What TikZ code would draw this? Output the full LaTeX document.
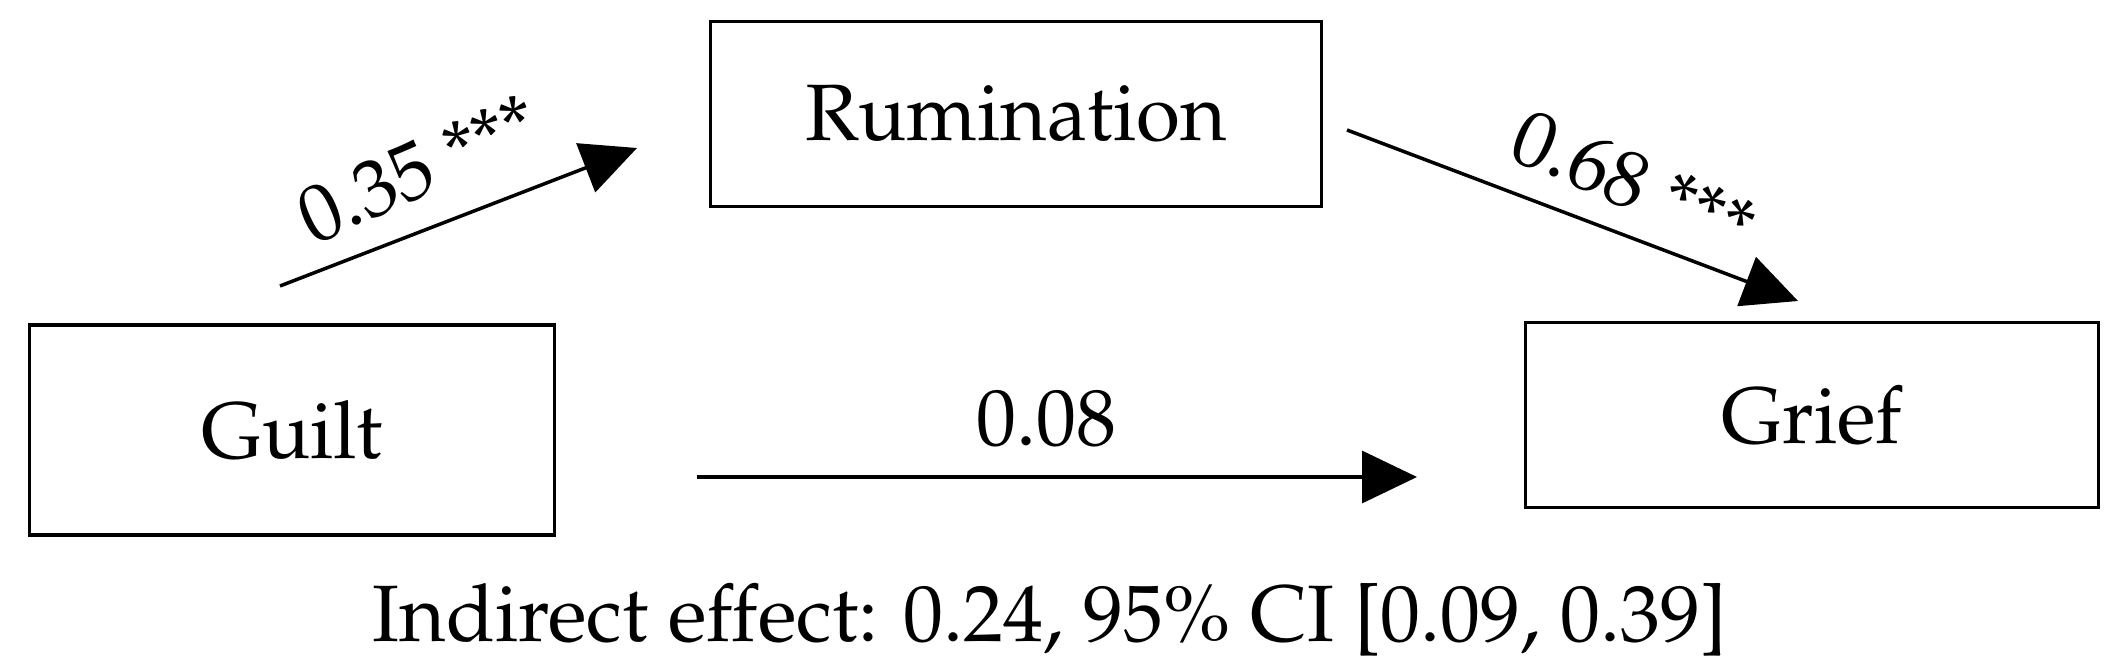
\documentclass[tikz,border=0pt]{standalone}
\usepackage[T1]{fontenc}
\renewcommand{\rmdefault}{ppl}
\usetikzlibrary{arrows.meta}
\begin{document}
\begin{tikzpicture}[x=1pt,y=-1pt,
  box/.style={draw=black,line width=3.5pt,minimum width=#1,inner sep=0pt,font=\fontsize{80}{96}\selectfont},
  lbl/.style={inner sep=0pt,font=\fontsize{80}{96}\selectfont},
  conn/.style={line width=3.5pt,-{Triangle[length=55pt,width=52pt]}}]
\useasboundingbox (0,0) rectangle (2117,671);
\node[box=525pt,minimum height=210pt] (guilt) at (292,430) {Guilt};
\node[box=611pt,minimum height=185pt] (rum) at (1016,114) {Rumination};
\node[box=573pt,minimum height=185pt] (grief) at (1812,415) {Grief};
\coordinate (a1) at (280,286);
\coordinate (a2) at (637,148);
\coordinate (b1) at (1347,130);
\coordinate (b2) at (1798,301);
\coordinate (c1) at (697,477);
\coordinate (c2) at (1417,477);
\draw[conn] (a1) -- (a2);
\draw[conn] (b1) -- (b2);
\draw[conn] (c1) -- (c2);
\node[lbl,rotate=24] (l1) at (418,169) {0.35 ***};
\node[lbl,rotate=-23] (l2) at (1634,182) {0.68 ***};
\node[lbl,anchor=base] (l3) at (1046,445) {0.08};
\node[lbl,anchor=base] (ind) at (1050,641) {Indirect effect: 0.24, 95\% CI [0.09, 0.39]};
\end{tikzpicture}
\end{document}
